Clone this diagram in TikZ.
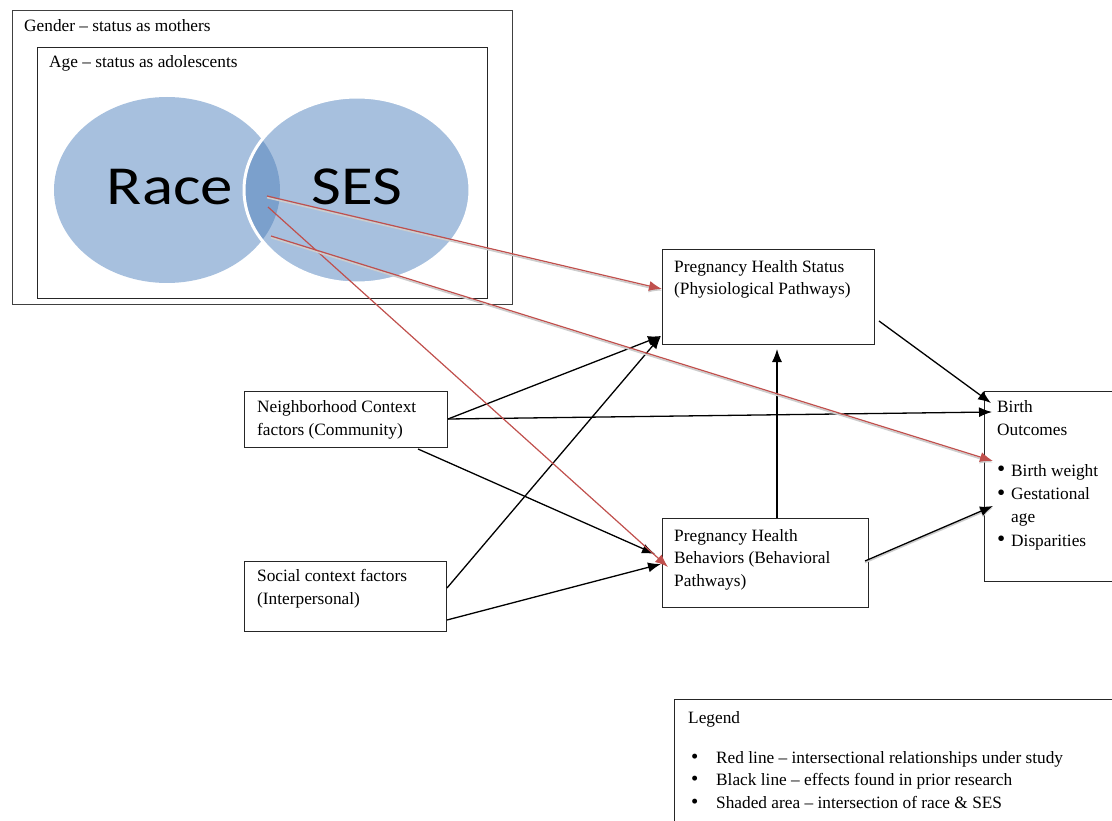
\documentclass[tikz,border=0pt]{standalone}
\usepackage{fontspec}
\usepackage{graphicx}
\setmainfont{Liberation Serif}
\newfontfamily\vennfont{Carlito}
\usetikzlibrary{arrows.meta,calc}

\newcommand{\vennellipse}[1]% center
{(#1) ellipse (113pt and 93pt)
}
\newcommand{\bodytext}{\fontsize{17.3}{22.5}\selectfont}
\newcommand{\bobullet}{\makebox[14pt][l]{\raisebox{-0.8pt}{\scalebox{1.35}{\textbullet}}}}
\newcommand{\legbullet}{\hspace*{3pt}\makebox[25pt][l]{\raisebox{-0.4pt}{\scalebox{1.2}{\textbullet}}}}

\begin{document}
\begin{tikzpicture}[x=1pt, y=-1pt,
  box/.style={draw=black!85, line width=1pt, anchor=north west, inner sep=0pt},
  txt/.style={anchor=base west, inner sep=0pt, align=left, font=\bodytext},
  vennlbl/.style={anchor=base, inner sep=0pt, font=\vennfont\fontsize{55}{55}\selectfont},
  blk/.style={draw=black, line width=1.3pt, -{Latex[length=13pt, width=10pt]}},
  rd/.style={draw=redline, line width=1.2pt, -{Latex[length=13pt, width=10pt]}},
  shadowed/.style={preaction={draw=shade, line width=1.6pt, transform canvas={yshift=-1.6pt}}}]

\definecolor{vennlight}{RGB}{167,192,222}
\definecolor{venndark}{RGB}{123,160,204}
\definecolor{redline}{RGB}{192,80,77}
\definecolor{shade}{RGB}{205,205,205}
\definecolor{framegray}{RGB}{64,64,64}

\useasboundingbox (0,0) rectangle (1112,821);

% nested context frames
\node[box, draw=framegray, line width=1.2pt, minimum width=500pt, minimum height=294pt] (gender) at (12,10) {};
\node[box, minimum width=450pt, minimum height=251pt] (age) at (37,47) {};
\node[txt] (gender-txt) at ($(gender.north west)+(12,22)$) {Gender – status as mothers};
\node[txt] (age-txt) at ($(age.north west)+(12,21)$) {Age – status as adolescents};

% venn of race and ses
\fill[vennlight] \vennellipse{167,190};
\fill[vennlight] \vennellipse{357,190};
\begin{scope}
  \clip \vennellipse{167,190};
  \fill[venndark] \vennellipse{357,190};
\end{scope}
\draw[white, line width=3pt] \vennellipse{357,190};
\node[vennlbl] (race) at (170,205) {\scalebox{1.18}[1]{Race}};
\node[vennlbl] (ses) at (357,205) {\scalebox{1.18}[1]{SES}};

\coordinate (rs1) at (267,196);
\coordinate (rs2) at (268,207);
\coordinate (rs3) at (271,236);

% boxes
\node[box, minimum width=212pt, minimum height=95pt] (phs) at (662,249) {};
\node[box, minimum width=206pt, minimum height=89pt] (pbh) at (662,518) {};
\node[box, minimum width=203pt, minimum height=56pt] (nbh) at (244,391) {};
\node[box, minimum width=202pt, minimum height=70pt] (soc) at (244,561) {};
\node[box, minimum width=130pt, minimum height=190pt] (bo) at (984,391) {};
\node[box, minimum width=440pt, minimum height=131pt] (leg) at (674,699) {};

% texts, placed by their last baseline
\node[txt] (phs-txt) at ($(phs.north west)+(12,46)$) {Pregnancy Health Status\\(Physiological Pathways)};
\node[txt] (pbh-txt) at ($(pbh.north west)+(12,68)$) {Pregnancy Health\\Behaviors (Behavioral\\Pathways)};
\node[txt] (nbh-txt) at ($(nbh.north west)+(13,44)$) {Neighborhood Context\\factors (Community)};
\node[txt] (soc-txt) at ($(soc.north west)+(13,43)$) {Social context factors\\(Interpersonal)};
\node[txt, font=\fontsize{17.3}{23.3}\selectfont] (bo-txt) at ($(bo.north west)+(13,155)$) {Birth\\Outcomes\\[17pt]
  \bobullet Birth weight\\\bobullet Gestational\\\hspace*{14pt}age\\\bobullet Disparities};
\node[txt] (leg-txt) at ($(leg.north west)+(14,109)$) {Legend\\[17pt]
  \legbullet Red line – intersectional relationships under study\\
  \legbullet Black line – effects found in prior research\\
  \legbullet Shaded area – intersection of race \& SES};

% black lines
\draw[blk] ($(nbh.north east)+(0,28)$) -- ($(phs.south west)+(-1,-9)$);
\draw[blk] ($(soc.north east)+(0,27)$) -- ($(phs.south west)+(-1,-9)$);
\draw[blk] ($(nbh.north east)+(0,28)$) -- ($(bo.north west)+(8,21)$);
\draw[blk] ($(nbh.south west)+(174,1)$) -- ($(pbh.north west)+(-7,36)$);
\draw[blk] ($(soc.north east)+(0,59)$) -- ($(pbh.north west)+(-1,46)$);
\draw[blk] ($(pbh.north west)+(115,0)$) -- ($(phs.south west)+(115,4)$);
\draw[blk] ($(phs.south east)+(4,-24)$) -- ($(bo.north west)+(7,12)$);
\draw[blk, shadowed] ($(pbh.north east)+(-4,43)$) -- ($(bo.north west)+(9,115)$);

% red lines
\draw[rd, shadowed] (rs1) -- ($(phs.north west)+(0,40)$);
\draw[rd] (rs2) -- ($(pbh.north west)+(6,49)$);
\draw[rd, shadowed] (rs3) -- ($(bo.north west)+(9,70)$);

\end{tikzpicture}
\end{document}
